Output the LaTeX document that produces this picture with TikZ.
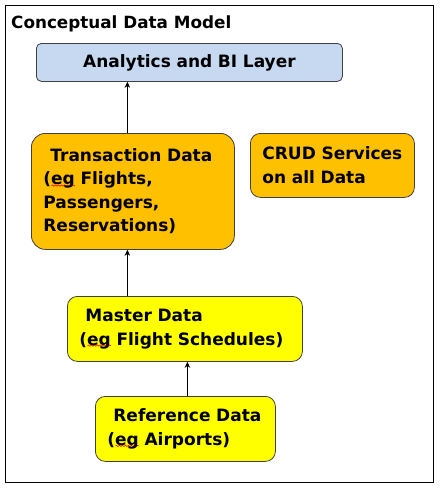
\documentclass[tikz,border=0pt]{standalone}
\usepackage{fontspec}
\setmainfont{DejaVu Sans}
\usetikzlibrary{arrows.meta,decorations.pathmorphing}
\definecolor{bifill}{HTML}{C6D9F1}
\definecolor{txfill}{HTML}{FFC000}
\definecolor{mdfill}{HTML}{FFFF00}
\definecolor{boxline}{HTML}{404040}
\newsavebox\egbox
\newcommand\egmark[1]{\sbox\egbox{#1}\rlap{\raisebox{-1.5pt}[0pt][0pt]{\tikz[x=1pt,y=1pt,sharp corners]\draw[red,line width=0.6pt,decorate,decoration={snake,amplitude=0.6pt,segment length=3pt}] (0,0) -- (\wd\egbox,0);}}\usebox\egbox}
\begin{document}
\begin{tikzpicture}[x=1pt,y=-1pt,
  layer/.style={draw=boxline,line width=0.8pt,anchor=north west,align=left,
    inner xsep=12pt,inner ysep=0pt,font=\fontsize{17}{23.5}\selectfont\bfseries},
  link/.style={draw,-{Stealth[length=6pt,width=5.5pt]},line width=0.8pt}]
\useasboundingbox (0,0) rectangle (442,491);
\draw[line width=1pt] (5,5) rectangle (433,482);
\node[anchor=base west,inner sep=0pt,font=\fontsize{16.8}{20}\selectfont\bfseries] (title) at (11,28) {Conceptual Data Model};
\node[layer,fill=bifill,rounded corners=5pt,text width=282pt,align=center,minimum height=38pt] (bi) at (36,43) {Analytics and BI Layer};
\node[layer,fill=txfill,rounded corners=14pt,text width=179pt,minimum height=116pt] (trans) at (31,133) {\hspace*{7pt}Transaction Data\\(\egmark{eg} Flights,\\Passengers,\\Reservations)};
\node[layer,fill=txfill,rounded corners=10pt,text width=140pt,minimum height=64pt] (crud) at (250,133) {\mbox{CRUD Services}\\on all Data};
\node[layer,fill=mdfill,rounded corners=10pt,text width=211pt,minimum height=65pt] (md) at (67,296) {\hspace*{6pt}Master Data\\(\egmark{eg} Flight Schedules)};
\node[layer,fill=mdfill,rounded corners=10pt,text width=156pt,minimum height=65pt] (ref) at (95,396) {\hspace*{6pt}Reference Data\\(\egmark{eg} Airports)};
\path[link] ([xshift=-5.5pt]trans.north) -- ([xshift=-5.5pt]trans.north |- bi.south);
\path[link] ([xshift=-5.5pt]trans.south |- md.north) -- ([xshift=-5.5pt]trans.south);
\path[link] ([xshift=2pt]ref.north) -- ([xshift=2pt]ref.north |- md.south);
\end{tikzpicture}
\end{document}
